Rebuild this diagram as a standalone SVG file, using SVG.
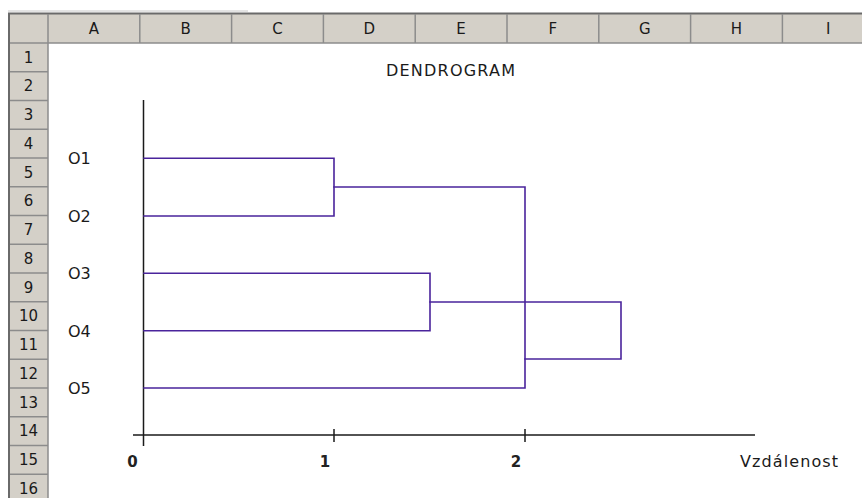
<svg xmlns="http://www.w3.org/2000/svg" width="862" height="498" viewBox="0 0 862 498">
  <style>
    .hdr { fill: #d4d0c8; }
    .grid { stroke: #8c8c8c; stroke-width: 1.5; fill: none; }
    .hl { font-family: "DejaVu Sans", Verdana, sans-serif; font-size: 15px; fill: #1a1a1a; text-anchor: middle; }
    .lbl { font-family: "DejaVu Sans", Verdana, sans-serif; font-size: 16px; fill: #1a1a1a; }
    .num { font-family: "DejaVu Sans", Verdana, sans-serif; font-size: 15px; font-weight: bold; fill: #222; text-anchor: middle; }
    .axis { stroke: #1a1a1a; stroke-width: 1.5; fill: none; }
    .link { stroke: #4a249c; stroke-width: 1.6; fill: none; stroke-linecap: square; }
  </style>

  <rect width="862" height="498" fill="#ffffff"/>

  <!-- sheet frame: column header row and row header column -->
  <g id="sheet-headers">
    <line x1="8" y1="11" x2="248" y2="11" stroke="#c8c8c8" stroke-width="1"/>
    <rect class="hdr" x="9" y="14" width="853" height="29"/>
    <rect class="hdr" x="9" y="14" width="39" height="484"/>
    <line x1="8" y1="13.5" x2="862" y2="13.5" stroke="#6a6a6a" stroke-width="2"/>
    <line x1="9" y1="13" x2="9" y2="498" stroke="#6a6a6a" stroke-width="2"/>
    <line class="grid" x1="48" y1="43" x2="862" y2="43"/>
    <line class="grid" x1="48" y1="14" x2="48" y2="498"/>
    <line class="grid" x1="10" y1="43" x2="48" y2="43"/>
    <!-- column separators -->
    <g class="grid">
      <line x1="139.8" y1="14" x2="139.8" y2="43"/>
      <line x1="231.6" y1="14" x2="231.6" y2="43"/>
      <line x1="323.4" y1="14" x2="323.4" y2="43"/>
      <line x1="415.2" y1="14" x2="415.2" y2="43"/>
      <line x1="507" y1="14" x2="507" y2="43"/>
      <line x1="598.8" y1="14" x2="598.8" y2="43"/>
      <line x1="690.6" y1="14" x2="690.6" y2="43"/>
      <line x1="782.4" y1="14" x2="782.4" y2="43"/>
    </g>
    <!-- row separators -->
    <g class="grid">
      <line x1="10" y1="71.75" x2="48" y2="71.75"/>
      <line x1="10" y1="100.5" x2="48" y2="100.5"/>
      <line x1="10" y1="129.25" x2="48" y2="129.25"/>
      <line x1="10" y1="158" x2="48" y2="158"/>
      <line x1="10" y1="186.75" x2="48" y2="186.75"/>
      <line x1="10" y1="215.5" x2="48" y2="215.5"/>
      <line x1="10" y1="244.25" x2="48" y2="244.25"/>
      <line x1="10" y1="273" x2="48" y2="273"/>
      <line x1="10" y1="301.75" x2="48" y2="301.75"/>
      <line x1="10" y1="330.5" x2="48" y2="330.5"/>
      <line x1="10" y1="359.25" x2="48" y2="359.25"/>
      <line x1="10" y1="388" x2="48" y2="388"/>
      <line x1="10" y1="416.75" x2="48" y2="416.75"/>
      <line x1="10" y1="445.5" x2="48" y2="445.5"/>
      <line x1="10" y1="474.25" x2="48" y2="474.25"/>
    </g>
    <g class="hl">
      <text x="93.9" y="34">A</text>
      <text x="185.7" y="34">B</text>
      <text x="277.5" y="34">C</text>
      <text x="369.3" y="34">D</text>
      <text x="461.1" y="34">E</text>
      <text x="552.9" y="34">F</text>
      <text x="644.7" y="34">G</text>
      <text x="736.5" y="34">H</text>
      <text x="828.3" y="34">I</text>
    </g>
    <g class="hl">
      <text x="28.5" y="62.5">1</text>
      <text x="28.5" y="91.25">2</text>
      <text x="28.5" y="120">3</text>
      <text x="28.5" y="148.75">4</text>
      <text x="28.5" y="177.5">5</text>
      <text x="28.5" y="206.25">6</text>
      <text x="28.5" y="235">7</text>
      <text x="28.5" y="263.75">8</text>
      <text x="28.5" y="292.5">9</text>
      <text x="28.5" y="321.25">10</text>
      <text x="28.5" y="350">11</text>
      <text x="28.5" y="378.75">12</text>
      <text x="28.5" y="407.5">13</text>
      <text x="28.5" y="436.25">14</text>
      <text x="28.5" y="465">15</text>
      <text x="28.5" y="493.75">16</text>
    </g>
  </g>

  <!-- chart title -->
  <g id="title">
    <text x="386" y="76" font-family="DejaVu Sans, Verdana, sans-serif" font-size="16" fill="#1a1a1a" textLength="129" lengthAdjust="spacing">DENDROGRAM</text>
  </g>

  <!-- axes -->
  <g id="axes">
    <line class="axis" x1="143.5" y1="100" x2="143.5" y2="446"/>
    <line class="axis" x1="133" y1="435" x2="755" y2="435"/>
    <line class="axis" x1="334" y1="429" x2="334" y2="442"/>
    <line class="axis" x1="525" y1="429" x2="525" y2="442"/>
    <g class="num">
      <text x="132.5" y="467">0</text>
      <text x="325" y="467">1</text>
      <text x="516" y="467">2</text>
    </g>
    <text x="740" y="467" font-family="DejaVu Sans, Verdana, sans-serif" font-size="16" fill="#1a1a1a" textLength="98" lengthAdjust="spacing">Vzdálenost</text>
  </g>

  <!-- leaf labels -->
  <g id="O1"><text class="lbl" x="68" y="164">O1</text></g>
  <g id="O2"><text class="lbl" x="68" y="221.5">O2</text></g>
  <g id="O3"><text class="lbl" x="68" y="279">O3</text></g>
  <g id="O4"><text class="lbl" x="68" y="336.5">O4</text></g>
  <g id="O5"><text class="lbl" x="68" y="394">O5</text></g>

  <!-- dendrogram links -->
  <g id="connectors" class="link">
    <polyline points="144,158.3 334,158.3 334,216 144,216"/>
    <polyline points="334,187 525,187 525,388 144,388"/>
    <polyline points="144,273.3 430,273.3 430,330.7 144,330.7"/>
    <polyline points="430,302 621,302 621,359 525,359"/>
  </g>
</svg>
